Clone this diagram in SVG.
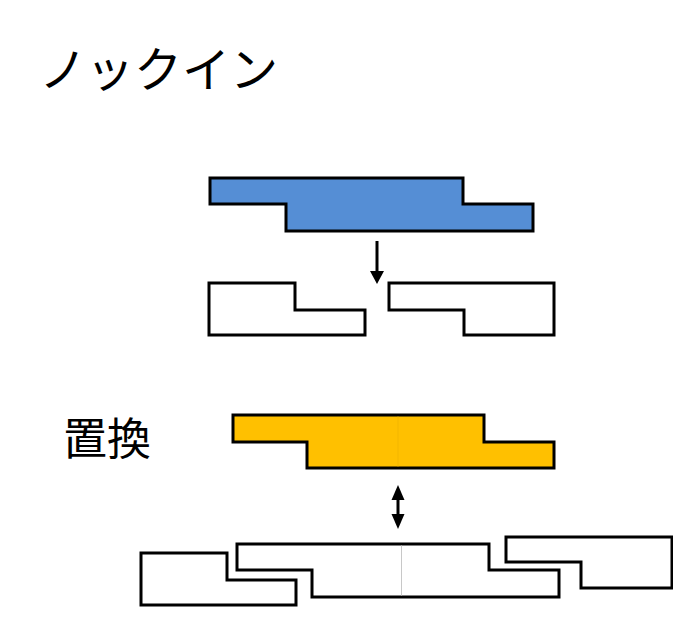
<svg xmlns="http://www.w3.org/2000/svg" width="673" height="627" viewBox="0 0 673 627">
<style>
.label{font-family:"Noto Sans CJK JP","Noto Sans CJK SC",sans-serif;fill:#000}
.shape{stroke:#000;stroke-width:3;stroke-linejoin:miter}
.blank{fill:#fff}
.seam{stroke:#c8c8c8;stroke-width:1}
.conn{stroke:#000;stroke-width:3;fill:none}
.head{fill:#000}
</style>
<rect width="673" height="627" fill="#fff"/>
<g id="title-knockin"><text class="label" x="39" y="87" font-size="48">ノックイン</text></g>
<g id="title-replace"><text class="label" x="63" y="455" font-size="44">置換</text></g>
<g id="blue-donor"><path class="shape" fill="#558ED5" d="M210,178 H463 V204 H533 V231 H286 V204 H210 Z"/></g>
<g id="left-target-1"><path class="shape blank" d="M209,283 H295 V310 H365 V335 H209 Z"/></g>
<g id="right-target-1"><path class="shape blank" d="M389,283 H554 V335 H464 V310 H389 Z"/></g>
<g id="yellow-donor"><path class="shape" fill="#FFC000" d="M233,415 H484 V442 H554 V468 H307 V442 H233 Z"/><line x1="398" y1="416.5" x2="398" y2="466.5" stroke="#f0b400" stroke-width="0.8"/></g>
<g id="left-target-2"><path class="shape blank" d="M141,553 H227 V580 H296 V605 H141 Z"/></g>
<g id="middle-target-2"><path class="shape blank" d="M237,544 H489 V570 H559 V597 H312 V570 H237 Z"/><line class="seam" x1="401.5" y1="545.5" x2="401.5" y2="595.5"/></g>
<g id="right-target-2"><path class="shape blank" d="M506,537 H672 V588 H581 V562 H506 Z"/></g>
<g id="connectors">
<line class="conn" x1="377" y1="241" x2="377" y2="273"/>
<path class="head" d="M370,271 H384 L377,284 Z"/>
<line class="conn" x1="398" y1="498" x2="398" y2="516"/>
<path class="head" d="M398,485 L404.5,500 H391.5 Z"/>
<path class="head" d="M398,529 L404.5,514 H391.5 Z"/>
</g>
</svg>
